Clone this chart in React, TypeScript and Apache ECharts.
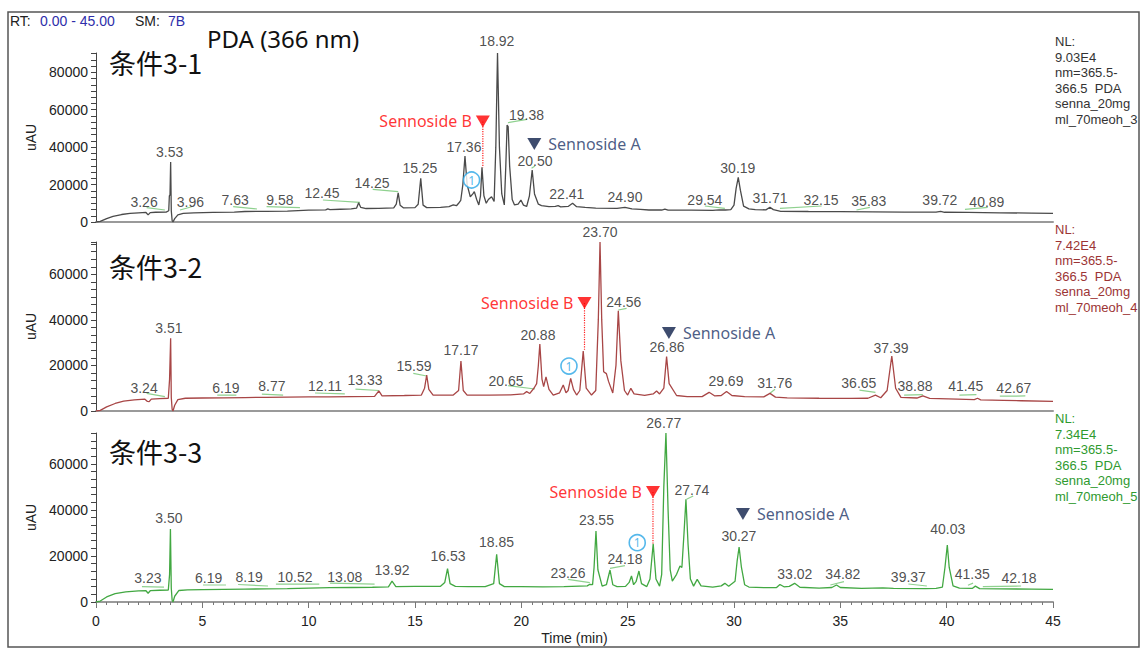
import React, { useEffect, useRef } from "react";
import * as echarts from "echarts";

type Pt = [number, number];
type Lbl = [string, number, number];
type Seg = [number, number, number, number];

// ---------- DATA ----------
// Retention time (min) vs absorbance (uAU)
const trace1: Pt[] = [
  [0, 0], [0.2, 300], [0.5, 1800], [0.8, 3000], [1.2, 4000], [1.6, 4600], [2.0, 4900], [2.35, 5100], [2.45, 3800], [2.55, 5000],
  [2.8, 5200], [3.3, 5300], [3.42, 6000], [3.45, 14000], [3.48, 14500], [3.51, 32000], [3.54, 6000], [3.58, 800], [3.62, 0],
  [3.7, 1800], [3.85, 3800], [4.1, 4600], [4.6, 4900], [5.5, 5100], [6.5, 5300], [7.0, 5600], [8, 5700], [9, 5800], [10, 6300],
  [10.8, 6500], [10.9, 7000], [11.0, 6600], [11.5, 6800], [12.0, 7000], [12.25, 7400], [12.35, 10300], [12.45, 7800], [12.7, 7200],
  [13.3, 7300], [14.0, 7500], [14.12, 9500], [14.21, 15600], [14.3, 9000], [14.45, 7600], [15.0, 7700], [15.15, 9500], [15.27, 23300],
  [15.38, 9000], [15.55, 7700], [16.2, 7800], [16.6, 8200], [16.8, 9200], [16.95, 8700], [17.05, 10000], [17.15, 11500], [17.25, 20000],
  [17.35, 35200], [17.45, 20000], [17.6, 13500], [17.72, 15000], [17.79, 16200], [17.9, 12000], [18.0, 9100], [18.08, 14000],
  [18.15, 29200], [18.24, 14000], [18.35, 10000], [18.45, 12000], [18.6, 13500], [18.72, 11000], [18.8, 40000], [18.88, 90300],
  [18.97, 40000], [19.08, 15000], [19.2, 9100], [19.27, 30000], [19.33, 51800], [19.38, 51000], [19.45, 30000], [19.57, 12000],
  [19.68, 9100], [19.85, 9500], [19.98, 11750], [20.1, 9000], [20.25, 8300], [20.38, 14000], [20.51, 27800], [20.62, 15000],
  [20.8, 9500], [20.95, 8800], [21.3, 8200], [21.6, 8300], [21.73, 8700], [21.85, 8100], [22.2, 8300], [22.41, 10000], [22.6, 8200],
  [23.0, 7800], [23.5, 7400], [24.5, 7300], [24.87, 7800], [25.2, 7000], [25.6, 6700], [26.0, 6400], [26.6, 6400], [26.75, 6900],
  [26.9, 6300], [28, 6300], [29.0, 6200], [29.3, 6500], [29.6, 6400], [29.85, 6600], [30.0, 9000], [30.1, 18000], [30.2, 23900],
  [30.3, 17000], [30.45, 8500], [30.7, 7000], [31.0, 6600], [31.5, 6500], [31.69, 7850], [31.85, 6600], [32.2, 5700], [33.5, 5600],
  [35.0, 5500], [36.5, 5400], [38, 5300], [39.5, 5250], [39.72, 5700], [39.9, 5200], [41, 5100], [42.5, 4900], [44, 4750], [45, 4650],
];

const trace2: Pt[] = [
  [0, 0], [0.2, 300], [0.5, 1800], [0.9, 3300], [1.3, 4300], [1.8, 4900], [2.3, 5200], [2.42, 4200], [2.5, 4100], [2.6, 5200],
  [3.0, 5400], [3.4, 5600], [3.46, 14000], [3.51, 31900], [3.54, 6000], [3.58, 800], [3.62, 0], [3.7, 2500], [3.85, 5000],
  [4.2, 5600], [5, 5700], [6, 5800], [7, 5900], [8, 6000], [9, 6100], [10, 6200], [11, 6200], [12, 6300], [13.1, 6400], [13.3, 8800],
  [13.45, 6600], [14.5, 6800], [15.3, 7000], [15.45, 10000], [15.55, 15800], [15.65, 9500], [15.85, 7000], [16.8, 7000], [17.05, 9000],
  [17.16, 21950], [17.27, 9000], [17.45, 7000], [18.5, 7000], [19.5, 7100], [20.1, 7500], [20.25, 8500], [20.4, 7700], [20.6, 10100],
  [20.72, 12000], [20.8, 20000], [20.87, 29400], [20.97, 14000], [21.05, 10700], [21.16, 15000], [21.3, 9500], [21.5, 7000],
  [21.8, 8000], [21.97, 11400], [22.1, 8000], [22.2, 9000], [22.32, 14350], [22.45, 9500], [22.6, 7000], [22.75, 9000],
  [22.91, 26300], [23.05, 10000], [23.3, 7000], [23.5, 9000], [23.62, 40000], [23.7, 74200], [23.78, 40000], [23.87, 17250],
  [24.0, 16400], [24.1, 13000], [24.3, 7900], [24.45, 20000], [24.56, 44000], [24.68, 22000], [24.85, 9000], [25.0, 7000],
  [25.15, 9950], [25.3, 7500], [25.8, 6900], [26.2, 7500], [26.36, 8800], [26.5, 7500], [26.7, 10000], [26.83, 23850],
  [26.95, 12000], [27.3, 6800], [27.8, 6300], [28.5, 6300], [28.83, 8200], [29.1, 6600], [29.4, 6800], [29.65, 8600], [29.9, 6800],
  [30.5, 6300], [31.4, 6200], [31.69, 7750], [31.95, 6100], [32.5, 5800], [34, 5600], [35.5, 5500], [36.3, 5600], [36.65, 7000],
  [36.9, 5800], [37.2, 9000], [37.42, 24150], [37.6, 10000], [37.85, 6000], [38.6, 5700], [38.88, 6600], [39.2, 5500], [40.5, 5200],
  [41.3, 5000], [41.45, 5600], [41.6, 4900], [42.67, 4700], [43.5, 4500], [45, 4200],
];

const trace3: Pt[] = [
  [0, 0], [0.2, 400], [0.5, 2200], [0.9, 3600], [1.4, 4400], [2.0, 4800], [2.35, 4900], [2.45, 3800], [2.55, 4900], [3.0, 5100],
  [3.4, 5200], [3.46, 12000], [3.5, 31700], [3.54, 6000], [3.58, 800], [3.62, 0], [3.7, 2500], [3.9, 5000], [4.3, 5300], [5, 5400],
  [6, 5500], [7, 5600], [8, 5700], [9, 5800], [10, 6000], [11, 6200], [12, 6300], [13, 6400], [13.75, 6600], [13.92, 9100],
  [14.1, 6700], [15, 6800], [16.2, 6800], [16.4, 8500], [16.53, 14500], [16.65, 8000], [16.9, 6800], [17.5, 6700], [18.3, 6700],
  [18.7, 8000], [18.84, 20700], [18.97, 8000], [19.2, 6700], [20, 6650], [21, 6600], [22, 6700], [23.1, 7000], [23.22, 7700],
  [23.35, 7500], [23.42, 15000], [23.51, 30800], [23.6, 14000], [23.8, 6900], [24.0, 7500], [24.17, 13900], [24.3, 7500],
  [24.5, 6650], [24.9, 6800], [25.07, 8500], [25.18, 11300], [25.28, 7500], [25.4, 9000], [25.53, 13450], [25.65, 8000],
  [25.9, 6700], [26.05, 10000], [26.2, 25300], [26.33, 10000], [26.5, 6900], [26.6, 12000], [26.7, 50000], [26.8, 73400],
  [26.9, 40000], [27.0, 14000], [27.1, 9100], [27.3, 12000], [27.46, 15600], [27.55, 15000], [27.65, 30000], [27.74, 44600],
  [27.84, 25000], [27.95, 10000], [28.1, 6900], [28.27, 9850], [28.45, 7000], [29.0, 6500], [29.4, 7000], [29.57, 8100],
  [29.75, 6800], [30.05, 9000], [30.15, 18000], [30.24, 23900], [30.35, 15000], [30.5, 7500], [30.7, 6500], [31.5, 6200],
  [32.0, 6300], [32.16, 7600], [32.35, 6600], [32.6, 6800], [32.85, 8100], [33.1, 6400], [34, 6000], [34.6, 6300], [34.82, 7400],
  [35.0, 6300], [36, 5900], [37.0, 6100], [37.5, 5950], [39, 5800], [39.5, 5950], [39.8, 6500], [39.92, 15000], [40.03, 24750],
  [40.12, 15000], [40.3, 7000], [40.6, 6000], [41.2, 5900], [41.35, 6900], [41.55, 5800], [42.5, 5700], [44, 5600], [45, 5500],
];

// Peak retention-time labels: [text, time, uAU]
const peakLabels1: Lbl[] = [
  ["3.26", 2.26, 10690], ["3.53", 3.46, 37400], ["3.96", 4.44, 10690], ["7.63", 6.54, 11490], ["9.58", 8.65, 11750],
  ["12.45", 10.63, 15500], ["14.25", 12.98, 20840], ["15.25", 15.23, 28850], ["17.36", 17.3, 40070], ["18.92", 18.85, 96700],
  ["19.38", 20.24, 57170], ["20.50", 20.64, 32590], ["22.41", 22.14, 14960], ["24.90", 24.87, 13360], ["29.54", 28.63, 11490],
  ["30.19", 30.18, 28590], ["31.71", 31.69, 12820], ["32.15", 34.09, 11490], ["35.83", 36.34, 11220], ["39.72", 39.68, 11750],
  ["40.89", 41.89, 10950],
];
const peakLabels2: Lbl[] = [
  ["3.24", 2.26, 10100], ["3.51", 3.43, 36440], ["6.19", 6.11, 10100], ["8.77", 8.27, 10975], ["12.11", 10.77, 10975],
  ["13.33", 12.65, 13600], ["15.59", 14.95, 19540], ["17.17", 17.16, 26780], ["20.65", 19.28, 13390], ["20.88", 20.78, 33360],
  ["23.70", 23.7, 78580], ["24.56", 24.82, 47850], ["26.86", 26.85, 28100], ["29.69", 29.62, 13390], ["31.76", 31.92, 12290],
  ["36.65", 35.87, 12290], ["37.39", 37.38, 27660], ["38.88", 38.51, 10975], ["41.45", 40.9, 10975], ["42.67", 43.16, 10100],
];
const peakLabels3: Lbl[] = [
  ["3.23", 2.44, 10420], ["3.50", 3.43, 36480], ["6.19", 5.3, 10420], ["8.19", 7.2, 10860], ["10.52", 9.36, 10860],
  ["13.08", 11.7, 10860], ["13.92", 13.92, 13900], ["16.53", 16.55, 19980], ["18.85", 18.83, 26050], ["23.26", 22.19, 12600],
  ["23.55", 23.53, 35610], ["24.18", 24.87, 18670], ["26.77", 26.7, 77740], ["27.74", 28.02, 48640], ["30.27", 30.23, 28450],
  ["33.02", 32.86, 12160], ["34.82", 35.12, 12160], ["39.37", 38.2, 10860], ["40.03", 40.05, 31700], ["41.35", 41.2, 12160],
  ["42.18", 43.4, 10420],
];

// Light-green label leader segments: [t1, uAU1, t2, uAU2]
const leaders1: Seg[] = [
  [2.38, 7640, 3.24, 6410], [3.95, 6410, 4.5, 8170], [6.45, 8170, 7.57, 6950], [8.02, 8170, 9.59, 7640],
  [10.67, 11750, 12.41, 10500], [13.01, 17470, 14.21, 16190], [19.37, 53060, 20.26, 54880], [20.48, 28690, 20.64, 29920],
  [28.63, 8550, 29.57, 7320], [32.16, 7320, 34.12, 8550], [35.76, 6410, 36.39, 7850], [40.86, 6790, 41.93, 7850],
];
const leaders2: Seg[] = [
  [2.38, 7770, 3.24, 6280], [5.7, 7000, 6.6, 7000], [7.8, 7400, 8.8, 7000], [10.3, 7900, 11.7, 7500], [12.2, 9600, 13.3, 9000],
  [14.92, 16550, 15.55, 15370], [19.38, 11100, 20.64, 9660], [24.56, 44340, 24.95, 45080], [31.69, 7770, 31.93, 9530],
  [35.9, 9200, 36.65, 8200], [38.0, 7000, 38.88, 7200], [40.6, 7000, 41.4, 7200], [42.5, 6500, 43.7, 6600],
];
const leaders3: Seg[] = [
  [2.16, 6700, 3.2, 6500], [5.03, 7380, 6.11, 7380], [6.68, 7600, 8.09, 6950], [8.46, 7800, 10.5, 7800], [11.0, 8200, 13.1, 7800],
  [22.19, 9860, 23.22, 8380], [24.17, 14640, 24.87, 15770], [27.77, 44600, 28.08, 46040], [34.53, 7380, 35.17, 8820],
  [38.2, 7820, 39.07, 6950], [41.0, 7300, 41.24, 8200], [41.7, 6640, 43.5, 6950],
];

const yMax = [90300, 74200, 73400];
const panelTitles = ["条件3-1", "条件3-2", "条件3-3"];
const nlTexts = [
  ["NL:", "9.03E4", "nm=365.5-", "366.5  PDA", "senna_20mg", "ml_70meoh_3"],
  ["NL:", "7.42E4", "nm=365.5-", "366.5  PDA", "senna_20mg", "ml_70meoh_4"],
  ["NL:", "7.34E4", "nm=365.5-", "366.5  PDA", "senna_20mg", "ml_70meoh_5"],
];
// Sennoside B marker: [time, marker uAU, peak-top uAU]
const sennosideB: [number, number, number][] = [[18.19, 53700, 29200], [22.97, 47400, 26300], [26.19, 47770, 25300]];
// Sennoside A marker: [time, uAU]
const sennosideA: Pt[] = [[20.61, 41700], [26.94, 34240], [30.42, 38220]];
// Circled "1" marker: [time, uAU]
const circledOne: Pt[] = [[17.66, 22440], [22.24, 19750], [25.45, 25750]];

// ---------- LAYOUT / STYLE ----------
const W = 1141, H = 653;
const GRID_LEFT = 96, GRID_RIGHT = 88, GRID_H = 169;
const GRID_TOPS = [53, 242, 433];
const traceColors = ["#4a4a4a", "#a84646", "#42a842"];
const nlColors = ["#333333", "#9c3535", "#2f9a2f"];
const NUM_FONT = "Liberation Sans, Arial, sans-serif";

function segData(segs: Seg[]) {
  const out: any[] = [];
  segs.forEach(([a, b, c, d]) => {
    out.push([a, b], [c, d], [null, null]);
  });
  return out;
}

export default function App() {
  const ref = useRef<HTMLDivElement>(null);
  useEffect(() => {
    if (!ref.current) return;
    const chart = echarts.init(ref.current, null, { renderer: "svg" });
    const traces = [trace1, trace2, trace3];
    const labels = [peakLabels1, peakLabels2, peakLabels3];
    const leaders = [leaders1, leaders2, leaders3];

    const grids = GRID_TOPS.map((top) => ({ left: GRID_LEFT, right: GRID_RIGHT, top, height: GRID_H }));
    const xAxes = [0, 1, 2].map((i) => ({
      gridIndex: i,
      type: "value",
      min: 0,
      max: 45,
      interval: 5,
      axisLine: { show: true, lineStyle: { color: "#9a9a9a", width: 2 } },
      axisTick: { show: i === 2, length: 6, lineStyle: { color: "#777" } },
      minorTick: { show: i === 2, splitNumber: 10, length: 3, lineStyle: { color: "#777" } },
      axisLabel: { show: i === 2, fontSize: 14, color: "#222", fontFamily: NUM_FONT, margin: 12 },
      splitLine: { show: false },
      name: i === 2 ? "Time (min)" : "",
      nameLocation: "middle",
      nameGap: 29,
      nameTextStyle: { fontSize: 14, color: "#222", fontFamily: NUM_FONT },
    }));
    const yAxes = [0, 1, 2].map((i) => ({
      gridIndex: i,
      type: "value",
      min: 0,
      max: yMax[i],
      interval: 20000 / 6,
      axisLine: { show: true, lineStyle: { color: "#444", width: 1 } },
      axisTick: { show: true, length: 5, lineStyle: { color: "#444" } },
      axisLabel: {
        fontSize: 14,
        color: "#222",
        fontFamily: NUM_FONT,
        margin: 8,
        formatter: (v: number) => {
          const k = v / 20000;
          return Math.abs(k - Math.round(k)) < 1e-6 ? String(Math.round(v)) : "";
        },
      },
      splitLine: { show: false },
      name: "uAU",
      nameLocation: "middle",
      nameGap: 56,
      nameRotate: 90,
      nameTextStyle: { fontSize: 14, color: "#222", fontFamily: NUM_FONT },
    }));

    const series: any[] = [];
    [0, 1, 2].forEach((i) => {
      series.push({
        type: "line",
        xAxisIndex: i,
        yAxisIndex: i,
        data: traces[i],
        showSymbol: false,
        symbol: "none",
        lineStyle: { color: traceColors[i], width: 1.3 },
        silent: true,
        z: 3,
      });
      series.push({
        type: "line",
        xAxisIndex: i,
        yAxisIndex: i,
        data: segData(leaders[i]),
        connectNulls: false,
        showSymbol: false,
        symbol: "none",
        lineStyle: { color: "#8fd18f", width: 1.2 },
        silent: true,
        z: 2,
      });
      series.push({
        type: "scatter",
        xAxisIndex: i,
        yAxisIndex: i,
        clip: false,
        silent: true,
        symbolSize: 1,
        itemStyle: { color: "rgba(0,0,0,0)" },
        data: labels[i].map(([txt, t, v]) => ({ value: [t, v], name: txt })),
        label: {
          show: true,
          position: "inside",
          formatter: (p: any) => p.name,
          fontSize: 14,
          color: "#222",
          fontFamily: NUM_FONT,
        },
        z: 5,
      });
      const [bt, bv, bp] = sennosideB[i];
      series.push({
        type: "line",
        xAxisIndex: i,
        yAxisIndex: i,
        data: [[bt, bv], [bt, bp]],
        showSymbol: false,
        symbol: "none",
        lineStyle: { color: "#ff2020", width: 1.2, type: "dotted" },
        silent: true,
        z: 4,
      });
      series.push({
        type: "scatter",
        xAxisIndex: i,
        yAxisIndex: i,
        clip: false,
        silent: true,
        symbol: "triangle",
        symbolRotate: 180,
        symbolSize: [14, 12],
        data: [
          {
            value: [bt, bv],
            itemStyle: { color: "#ff0000" },
            label: { show: true, position: "left", distance: 4, formatter: "Sennoside B", color: "#ff0000" },
          },
          {
            value: sennosideA[i],
            itemStyle: { color: "#0e1f4a" },
            label: { show: true, position: "right", distance: 7, formatter: "Sennoside A", color: "#1c3466" },
          },
        ],
        label: { fontSize: 16, fontFamily: "Noto Sans, sans-serif" },
        z: 6,
      });
      series.push({
        type: "scatter",
        xAxisIndex: i,
        yAxisIndex: i,
        clip: false,
        silent: true,
        symbol: "circle",
        symbolSize: 16,
        itemStyle: { color: "#ffffff", borderColor: "#2aa6e6", borderWidth: 1.6 },
        data: [{ value: circledOne[i] }],
        label: {
          show: true,
          position: "inside",
          formatter: "1",
          fontSize: 12,
          color: "#2aa6e6",
          fontFamily: "Noto Sans, sans-serif",
        },
        z: 6,
      });
    });

    const graphic: any[] = [
      {
        type: "rect",
        shape: { x: 8, y: 12, width: 1131, height: 635 },
        style: { fill: "none", stroke: "#555", lineWidth: 1.5 },
        silent: true,
      },
      { type: "text", x: 10, y: 21, style: { text: "RT:", fill: "#222", fontSize: 14, fontFamily: NUM_FONT, verticalAlign: "middle" } },
      { type: "text", x: 40, y: 21, style: { text: "0.00 - 45.00", fill: "#2e2eaa", fontSize: 14, fontFamily: NUM_FONT, verticalAlign: "middle" } },
      { type: "text", x: 135, y: 21, style: { text: "SM:", fill: "#222", fontSize: 14, fontFamily: NUM_FONT, verticalAlign: "middle" } },
      { type: "text", x: 168, y: 21, style: { text: "7B", fill: "#2e2eaa", fontSize: 14, fontFamily: NUM_FONT, verticalAlign: "middle" } },
      { type: "text", x: 207, y: 38, style: { text: "PDA (366 nm)", fill: "#111", fontSize: 24, fontFamily: "Noto Sans, sans-serif", verticalAlign: "middle" } },
    ];
    const titleY = [62, 266, 451];
    const nlTop = [34, 222, 411];
    [0, 1, 2].forEach((i) => {
      graphic.push({
        type: "text",
        x: 109,
        y: titleY[i],
        style: { text: panelTitles[i], fill: "#111", fontSize: 27, fontFamily: "Noto Sans CJK SC, sans-serif", verticalAlign: "middle" },
      });
      graphic.push({
        type: "text",
        x: 1055,
        y: nlTop[i],
        style: {
          text: nlTexts[i].join("\n"),
          fill: nlColors[i],
          fontSize: 13,
          lineHeight: 15.5,
          fontFamily: NUM_FONT,
          verticalAlign: "top",
        },
      });
    });

    chart.setOption({
      animation: false,
      backgroundColor: "#ffffff",
      grid: grids,
      xAxis: xAxes,
      yAxis: yAxes,
      series,
      graphic,
    });
    return () => chart.dispose();
  }, []);

  return <div ref={ref} style={{ position: "fixed", left: 0, top: 0, width: W, height: H }} />;
}
